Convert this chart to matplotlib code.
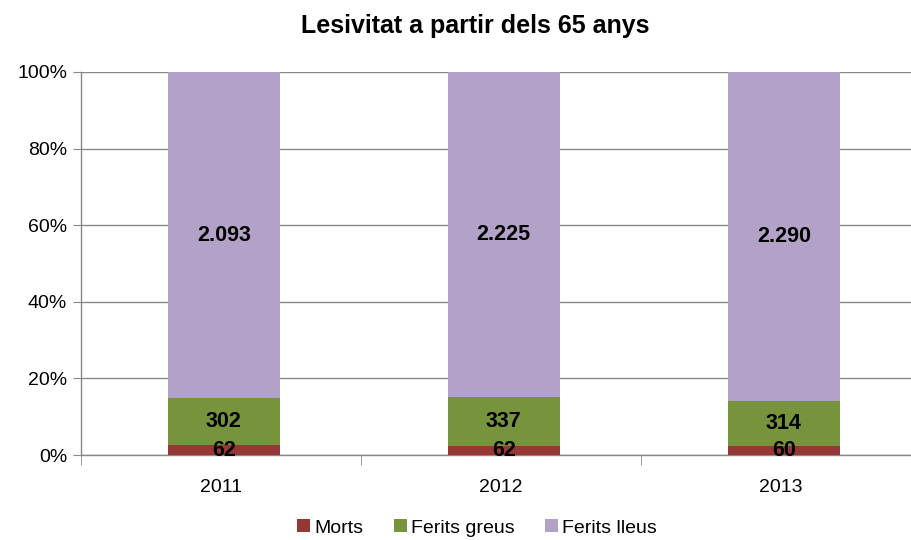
import matplotlib.pyplot as plt
import numpy as np

plt.rcParams['font.family'] = ['Liberation Sans', 'DejaVu Sans']

anys = ["2011", "2012", "2013"]
morts = [62, 62, 60]
greus = [302, 337, 314]
lleus = [2093, 2225, 2290]
etiquetes_lleus = ["2.093", "2.225", "2.290"]

colors = ["#953735", "#77933C", "#B3A2C7"]
noms = ["Morts", "Ferits greus", "Ferits lleus"]

total = np.array(morts) + np.array(greus) + np.array(lleus)
series = [np.array(morts) / total * 100,
          np.array(greus) / total * 100,
          np.array(lleus) / total * 100]
textos = [[str(v) for v in morts], [str(v) for v in greus], etiquetes_lleus]

fig = plt.figure(figsize=(9.12, 5.4), dpi=100)
ax = fig.add_axes([81 / 912, 85 / 540, 840 / 912, 383 / 540])

x = np.arange(len(anys))
base = np.zeros(len(anys))
for serie, color, nom, txt in zip(series, colors, noms, textos):
    ax.bar(x + 0.01, serie, 0.4, bottom=base, color=color, label=nom, zorder=3)
    for xi, b, h, t in zip(x, base, serie, txt):
        ax.text(xi + 0.01, b + h / 2, t, ha='center', va='center', fontsize=15.5,
                fontweight='bold', zorder=4)
    base = base + serie

ax.set_xlim(-0.5, 2.5)
ax.set_ylim(0, 100)
ax.set_yticks(range(0, 101, 20))
ax.set_yticklabels([f"{v}%" for v in range(0, 101, 20)], fontsize=14)
ax.grid(axis='y', color='#888888', linewidth=1, zorder=0)
ax.set_xticks(x)
ax.set_xticklabels(anys, fontsize=14)
ax.tick_params(axis='x', which='major', length=0, pad=17)
ax.set_xticks([-0.5, 0.5, 1.5, 2.5], minor=True)
ax.tick_params(axis='x', which='minor', length=7, color='#888888')
ax.tick_params(axis='y', length=6, color='#888888', pad=4)

for s in ['top', 'right']:
    ax.spines[s].set_visible(False)
for s in ['left', 'bottom']:
    ax.spines[s].set_color('#888888')
    ax.spines[s].set_linewidth(1)

fig.suptitle("Lesivitat a partir dels 65 anys", fontsize=18, fontweight='bold',
             x=475 / 912, y=1 - 26 / 540, va='center')

fig.legend(loc='center', bbox_to_anchor=(477 / 912, 1 - 528 / 540), ncol=3,
           frameon=False, fontsize=14, handlelength=0.65, handleheight=0.65,
           handletextpad=0.2, columnspacing=1.6)

fig.savefig("out.png", dpi=100)
